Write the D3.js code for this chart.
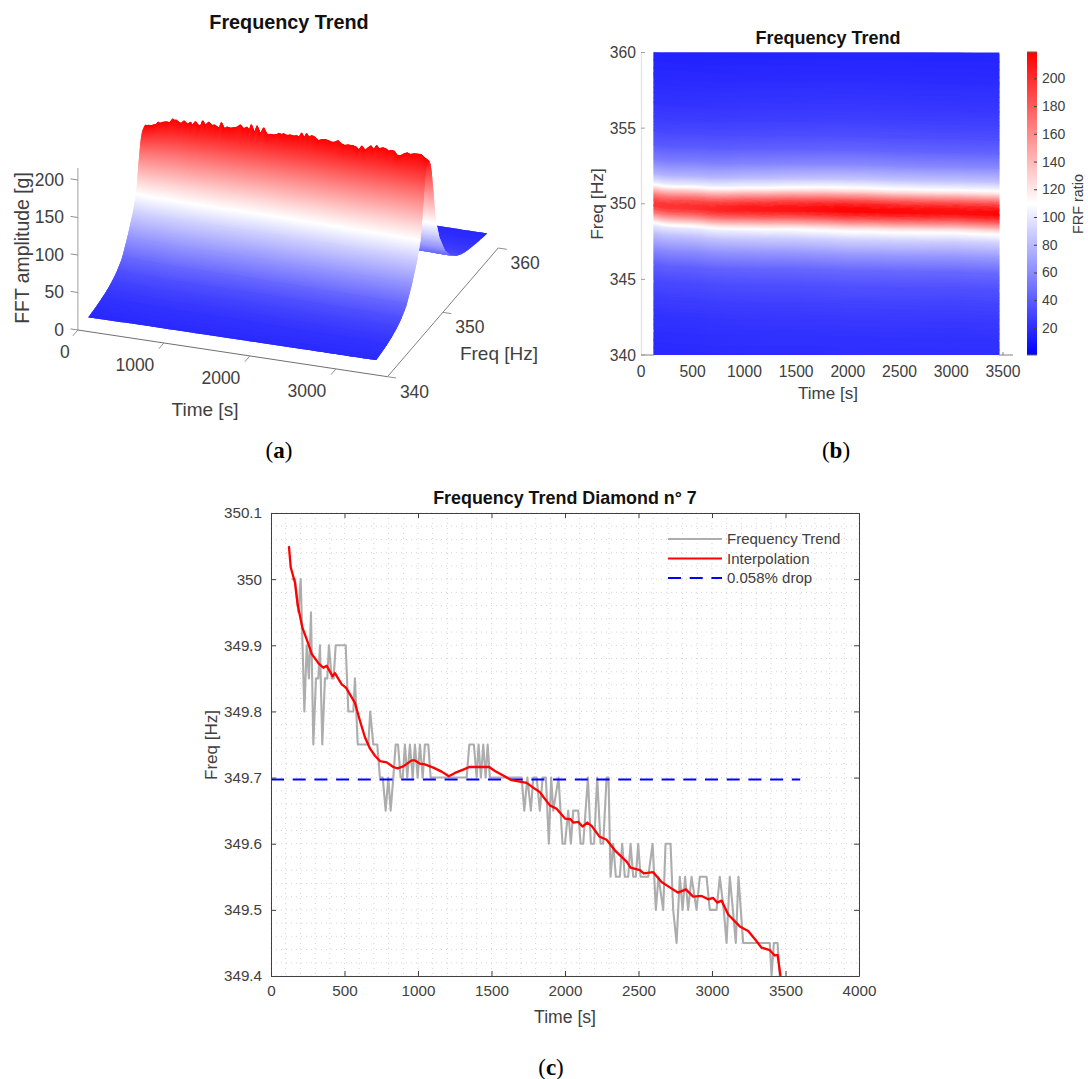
<!DOCTYPE html>
<html><head><meta charset="utf-8">
<style>
html,body{margin:0;padding:0;background:#fff}
svg{display:block}
text{font-family:"Liberation Sans",Arial,sans-serif;fill:#404040}
.title{font-weight:700;fill:#111}
.cap{font-family:"Liberation Serif",serif;fill:#000;font-size:23px}
</style>
<script src="https://cdn.jsdelivr.net/npm/d3@7"></script>
</head><body>
<svg id="c" width="1088" height="1079"></svg>
<script>
// ---- Panel (c) data ----
const trendTimes=[141,163,186,202,227,243,258,272,288,306,322,333,349,367,383,394,413,426,440,508,526,560,571,590,662,675,696,723,741,760,780,798,814,832,848,864,882,896,911,927,945,964,979,998,1013,1032,1047,1070,1086,1331,1349,1380,1399,1412,1428,1444,1460,1474,1489,1705,1723,1744,1768,1784,1807,1829,1848,1870,1890,1906,1920,1956,1983,2000,2022,2040,2056,2090,2106,2124,2156,2176,2198,2219,2242,2260,2283,2296,2310,2328,2346,2373,2389,2407,2430,2446,2464,2482,2498,2514,2566,2596,2618,2636,2668,2684,2718,2736,2759,2781,2800,2817,2838,2861,2895,2917,2963,2985,3031,3053,3080,3099,3121,3142,3162,3180,3212,3393,3405,3421,3446,3461];
const trendFreqs=[350,350,349.95,350,349.8,349.9,349.85,349.95,349.75,349.85,349.85,349.9,349.75,349.85,349.85,349.9,349.85,349.85,349.9,349.9,349.8,349.8,349.85,349.75,349.75,349.8,349.75,349.75,349.7,349.7,349.65,349.7,349.65,349.7,349.75,349.75,349.7,349.7,349.75,349.7,349.75,349.7,349.75,349.7,349.75,349.7,349.75,349.75,349.7,349.7,349.75,349.75,349.7,349.75,349.7,349.75,349.7,349.75,349.7,349.7,349.65,349.7,349.65,349.7,349.7,349.65,349.7,349.7,349.6,349.7,349.65,349.7,349.6,349.6,349.65,349.6,349.65,349.65,349.6,349.6,349.7,349.6,349.6,349.7,349.6,349.6,349.7,349.7,349.55,349.6,349.55,349.55,349.6,349.55,349.55,349.6,349.55,349.55,349.6,349.55,349.55,349.6,349.5,349.55,349.5,349.6,349.6,349.5,349.45,349.55,349.5,349.55,349.5,349.55,349.5,349.55,349.55,349.5,349.5,349.55,349.5,349.45,349.55,349.5,349.45,349.55,349.45,349.45,349.4,349.45,349.45,349.4];
const interpTimes=[122,134,163,181,213,254,277,322,356,379,419,435,481,510,571,605,639,673,707,741,787,832,861,900,957,979,1013,1047,1104,1161,1210,1251,1308,1349,1484,1523,1580,1637,1739,1795,1829,1852,1897,1943,2000,2038,2056,2090,2119,2151,2181,2233,2283,2339,2419,2446,2509,2536,2600,2657,2713,2770,2822,2872,2929,2974,3008,3035,3065,3110,3189,3246,3298,3336,3393,3427,3446,3466];
const interpFreqs=[350.05,350.018,349.995,349.962,349.927,349.902,349.887,349.873,349.866,349.869,349.853,349.858,349.841,349.836,349.813,349.786,349.761,349.744,349.733,349.725,349.723,349.716,349.714,349.717,349.726,349.726,349.721,349.72,349.715,349.709,349.702,349.707,349.712,349.716,349.716,349.71,349.703,349.696,349.692,349.683,349.678,349.671,349.658,349.653,349.638,349.637,349.632,349.633,349.626,349.632,349.627,349.611,349.606,349.59,349.573,349.564,349.56,349.555,349.557,349.542,349.534,349.526,349.531,349.52,349.521,349.516,349.518,349.511,349.514,349.493,349.475,349.468,349.454,349.443,349.439,349.431,349.432,349.4];
const dropFreq=349.697;
const dropTimes=[0,3600];
const legendNames=["Frequency Trend","Interpolation","0.058% drop"];
const cXTicks=[0,500,1000,1500,2000,2500,3000,3500,4000];
const cYTicks=[349.4,349.5,349.6,349.7,349.8,349.9,350,350.1];

// ---- Panels (a),(b) data: ridge height over time and cross-section around the ridge ----
const peakTimes=[120,137,157,176,196,234,273,292,312,351,389,428,448,467,486,506,544,564,603,641,680,699,738,765,796,823,854,893,932,959,990,1017,1040,1075,1106,1145,1184,1223,1261,1300,1339,1366,1389,1428,1455,1494,1533,1572,1610,1649,1688,1707,1738,1765,1804,1843,1881,1920,1947,1978,2009,2036,2064,2095,2133,2172,2211,2250,2288,2327,2366,2405,2443,2482,2521,2579,2618,2649,2684,2723,2754,2792,2823,2858,2889,2928,2967,2998,3025,3064,3095,3141,3180,3219,3250,3296,3335,3381,3420,3470];
const peakAmps=[186,190,189,191,190.5,192.5,194.5,198,196.5,199,200,200,203,206,204,205,202,201.5,206,202,206,202,208,204,202,211,205,210,206,207,205,204,212.5,204,207,206,207.5,209,213,208,211,207,216,204,215.6,204,214,205,206,205.6,207,209.4,208,209.6,208,209.7,208.7,210,208.6,215,209,215.5,210.7,213.6,212,208,210,211,210.5,209,209.6,212.7,209,207.5,209,209,207.6,204,210.8,205,209.3,213,208,214.8,210.5,212.7,212,209.3,210.8,210.5,205.5,206,209.3,211.3,209.6,211.4,212,212,208.4,205];
const trendOfPeakTimes=[120,300,600,1000,1500,2000,3470];
const trendOfPeakAmps=[188,196,203,206,208,210,209];
const sectionOffsets=[-11,-10,-9,-8,-7,-6,-5,-4,-3,-2,-1.45,-1.2,-1,-0.8,-0.6,-0.4,-0.2,-0.1,0,0.1,0.2,0.4,0.6,0.8,1,1.2,1.45,2,3,4,5,6,7,8,9,10,11];
const sectionAmps=[17,19,20.5,22.5,25,29,35,45,65,90,110,128,150,170,190,205,214,217,218,217,214,205,190,170,150,128,110,86,60,44,35,29,25,22.5,20,18,16.5];
const heatTimes=[120,500,1000,1500,2000,2500,3000,3470];
const heatPeaks=[196,200,208,212,218,216,214,217];
const aZTicks=[0,50,100,150,200];
const aTTicks=[0,1000,2000,3000];
const aFTicks=[340,350,360];
const bXTicks=[0,500,1000,1500,2000,2500,3000,3500];
const bYTicks=[340,345,350,355,360];
const barTicks=[20,40,60,80,100,120,140,160,180,200];

const svg=d3.select("#c");
const defs=svg.append("defs");
const INK="#404040";
const heatColor=d3.scaleLinear().domain([1,110,219]).range(["#0000ff","#ffffff","#ff0000"]).clamp(true);
const section=d3.scaleLinear().domain(sectionOffsets).range(sectionAmps);
const centerAt=d3.scaleLinear().domain(interpTimes).range(interpFreqs).clamp(true);
const peakTrend=d3.scaleLinear().domain(trendOfPeakTimes).range(trendOfPeakAmps);
const peakMax=d3.max(sectionAmps);

// rows of the surface: subdivide cross-section so every row spans a small amplitude step
const rows=[];
for(let i=0;i<sectionOffsets.length-1;i++){
  const a=sectionOffsets[i],b=sectionOffsets[i+1];
  const n=Math.max(1,Math.ceil(Math.abs(sectionAmps[i+1]-sectionAmps[i])/1.2));
  d3.range(n).forEach(k=>rows.push({o1:a+(b-a)*k/n,o2:a+(b-a)*(k+1)/n}));
}
rows.forEach(r=>{r.mid=(r.o1+r.o2)/2;r.amp=section(r.mid);r.w=r.o2-r.o1;});

// ======= Panel (a) =======
const gA=svg.append("g");
const tx=d3.scaleLinear().domain([0,3600]).range([0,309.6]);
const ty=d3.scaleLinear().domain([0,3600]).range([0,46.7]);
const fx=d3.scaleLinear().domain([340,360]).range([0,110.7]);
const fy=d3.scaleLinear().domain([340,360]).range([0,-128.7]);
const zy=d3.scaleLinear().domain([0,200]).range([0,-150]);
const O=[77.9,330];
const P=(t,f,z)=>[O[0]+tx(t)+fx(f),O[1]+ty(t)+fy(f)+zy(z)];
const clampF=f=>Math.min(360,Math.max(340,f));
function surfPoint(t,o,pk){
  const c=centerAt(t);const f=clampF(c+o);
  const s=section(f-c);
  const tr=peakTrend(t);
  const rel=s/peakMax;
  const factor=1-(1-tr/peakMax)*rel*rel*rel;
  const w=Math.pow(Math.max(0,(s-190)/28),2);
  return P(t,f,s*factor+(pk-tr)*w);
}
const surfLine=d3.line();
gA.append("g").selectAll("path").data(rows.slice().reverse()).join("path")
  .attr("d",r=>{
    const o2=Math.min(11,r.o2+r.w*1.2);
    const up=peakTimes.map((t,i)=>surfPoint(t,o2,peakAmps[i]));
    const dn=peakTimes.map((t,i)=>surfPoint(t,r.o1,peakAmps[i])).reverse();
    return surfLine(up.concat(dn))+"Z";
  })
  .attr("fill",r=>heatColor(r.amp));
// 3-D axes
const axA=gA.append("g").attr("stroke","#808080").attr("stroke-width",1).attr("fill","none");
const seg=(a,b,col)=>axA.append("line").attr("x1",a[0]).attr("y1",a[1]).attr("x2",b[0]).attr("y2",b[1]).attr("stroke",col||"#808080");
seg(P(0,340,0),P(0,340,216),"#a0a0a0");
seg(P(0,340,0),P(3600,340,0),"#707070");
seg(P(3600,340,0),P(3600,360,0),"#808080");
aZTicks.forEach(z=>seg(P(0,340,z),P(-85,340,z),"#909090"));
aTTicks.forEach(t=>seg(P(t,340,0),P(t,339.1,0),"#909090"));
aFTicks.forEach(f=>seg(P(3600,f,0),P(3700,f,0),"#909090"));
const txtA=gA.append("g").attr("font-size",17.5);
aZTicks.forEach(z=>{const p=P(0,340,z);txtA.append("text").attr("x",p[0]-14).attr("y",p[1]+5.5).attr("text-anchor","end").text(z);});
aTTicks.forEach(t=>{const p=P(t,340,0);txtA.append("text").attr("x",p[0]-(t===0?13:29)).attr("y",p[1]+(t===0?28:28)).attr("text-anchor","middle").text(t);});
aFTicks.forEach(f=>{const p=P(3600,f,0);txtA.append("text").attr("x",p[0]+27).attr("y",p[1]+21).attr("text-anchor","middle").text(f);});
gA.append("text").attr("font-size",19).attr("x",205).attr("y",416).attr("text-anchor","middle").text("Time [s]");
gA.append("text").attr("font-size",19).attr("x",499).attr("y",360).attr("text-anchor","middle").text("Freq [Hz]");
gA.append("text").attr("font-size",19.4).attr("transform","translate(29,248) rotate(-90)").attr("text-anchor","middle").text("FFT amplitude [g]");
gA.append("text").attr("class","title").attr("font-size",19.8).attr("x",289).attr("y",29).attr("text-anchor","middle").text("Frequency Trend");
const cap=(x,y,l)=>{const t=svg.append("text").attr("class","cap").attr("x",x).attr("y",y).attr("text-anchor","middle");
  t.append("tspan").text("(");t.append("tspan").attr("font-weight",700).text(l);t.append("tspan").text(")");};
cap(279,458,"a");cap(836,458,"b");cap(551,1075,"c");

// ======= Panel (b) =======
const gB=svg.append("g");
const bx=d3.scaleLinear().domain([0,3500]).range([641,1003]);
const by=d3.scaleLinear().domain([340,360]).range([355,52.5]);
defs.append("clipPath").attr("id","heatClip").append("rect")
  .attr("x",bx(119)).attr("y",by(360)).attr("width",bx(3465)-bx(119)).attr("height",by(340)-by(360));
const heatPeak=d3.scaleLinear().domain(heatTimes).range(heatPeaks);
const grads=defs.selectAll("linearGradient.h").data(rows).join("linearGradient")
  .attr("class","h").attr("id",(r,i)=>"h"+i).attr("gradientUnits","userSpaceOnUse")
  .attr("x1",bx(120)).attr("x2",bx(3470)).attr("y1",0).attr("y2",0);
grads.selectAll("stop").data(r=>heatTimes.map(t=>({t,c:heatColor(r.amp*heatPeak(t)/peakMax)}))).join("stop")
  .attr("offset",d=>(d.t-120)/(3470-120)).attr("stop-color",d=>d.c);
gB.append("g").attr("clip-path","url(#heatClip)").selectAll("path").data(rows).join("path")
  .attr("d",r=>{
    const up=peakTimes.map(t=>[bx(t),by(centerAt(t)+r.o2)]);
    const dn=peakTimes.map(t=>[bx(t),by(centerAt(t)+r.o1-r.w*1.2)]).reverse();
    return surfLine(up.concat(dn))+"Z";
  })
  .attr("fill",(r,i)=>"url(#h"+i+")");
gB.append("line").attr("x1",641.5).attr("x2",641.5).attr("y1",52).attr("y2",355).attr("stroke","#e2e2e2").attr("stroke-width",1.2);
gB.append("line").attr("x1",641).attr("x2",654).attr("y1",355).attr("y2",355).attr("stroke","#808080");
gB.append("line").attr("x1",999).attr("x2",1013).attr("y1",355).attr("y2",355).attr("stroke","#808080");
gB.append("line").attr("x1",bx(3500)).attr("x2",bx(3500)).attr("y1",355).attr("y2",352).attr("stroke","#808080");
bYTicks.forEach(v=>gB.append("line").attr("x1",641).attr("x2",645).attr("y1",by(v)).attr("y2",by(v)).attr("stroke","#a0a0a0"));
const tB=gB.append("g").attr("font-size",15.7);
bXTicks.forEach(v=>tB.append("text").attr("x",bx(v)).attr("y",377).attr("text-anchor","middle").text(v));
bYTicks.forEach(v=>tB.append("text").attr("x",636).attr("y",by(v)+5.5).attr("text-anchor","end").text(v));
gB.append("text").attr("font-size",17).attr("x",828).attr("y",399).attr("text-anchor","middle").text("Time [s]");
gB.append("text").attr("font-size",17.4).attr("transform","translate(603,204) rotate(-90)").attr("text-anchor","middle").text("Freq [Hz]");
gB.append("text").attr("class","title").attr("font-size",18).attr("x",828).attr("y",44).attr("text-anchor","middle").text("Frequency Trend");
// colour bar
const barY=d3.scaleLinear().domain([0.5,219]).range([355,52]);
const bg=defs.append("linearGradient").attr("id","bar").attr("x1",0).attr("x2",0).attr("y1",1).attr("y2",0);
[1,110,219].forEach(v=>bg.append("stop").attr("offset",(v-1)/218).attr("stop-color",heatColor(v)));
gB.append("rect").attr("x",1027).attr("y",52).attr("width",10).attr("height",303).attr("fill","url(#bar)");
[52,355].forEach(y=>gB.append("line").attr("x1",1027).attr("x2",1037).attr("y1",y).attr("y2",y).attr("stroke","#666"));
const barAxis=gB.append("g").attr("transform","translate(1037,0)")
  .call(d3.axisRight(barY).tickValues(barTicks).tickSize(-3).tickPadding(5));
barAxis.select(".domain").remove();
barAxis.selectAll("line").attr("stroke","#404040");
barAxis.selectAll("text").attr("font-size",14).attr("font-family","Liberation Sans").attr("fill",INK);
gB.append("text").attr("font-size",14.4).attr("transform","translate(1083,204) rotate(-90)").attr("text-anchor","middle").text("FRF ratio");

// ======= Panel (c) =======
const gC=svg.append("g");
const cx=d3.scaleLinear().domain([0,4000]).range([271,859]);
const cy=d3.scaleLinear().domain([349.4,350.1]).range([976,513]);
const gridG=gC.append("g").attr("fill","none").attr("stroke-width",1);
const minorX=d3.range(0,4001,100),minorY=d3.range(0,36).map(i=>349.4+i*0.02);
gridG.selectAll("line.mx").data(minorX).join("line").attr("class","mx")
  .attr("x1",cx).attr("x2",cx).attr("y1",513).attr("y2",976)
  .attr("stroke","#d6d6d6").attr("stroke-dasharray","1 4");
gridG.selectAll("line.my").data(minorY).join("line").attr("class","my")
  .attr("x1",271).attr("x2",859).attr("y1",cy).attr("y2",cy)
  .attr("stroke","#d6d6d6").attr("stroke-dasharray","1 4");
const lineC=d3.line().x(d=>cx(d[0])).y(d=>cy(d[1]));
gC.append("path").attr("fill","none").attr("stroke","#adadad").attr("stroke-width",2.1).attr("stroke-linejoin","round")
  .attr("d",lineC(trendTimes.map((t,i)=>[t,trendFreqs[i]])));
gC.append("path").attr("fill","none").attr("stroke","#0000ff").attr("stroke-width",2).attr("stroke-dasharray","13 8.7")
  .attr("d",lineC(dropTimes.map(t=>[t,dropFreq])));
gC.append("path").attr("fill","none").attr("stroke","#ff0000").attr("stroke-width",2.3).attr("stroke-linejoin","round")
  .attr("d",lineC(interpTimes.map((t,i)=>[t,interpFreqs[i]])));
const style=g=>{g.selectAll("path.domain").attr("stroke",INK).attr("stroke-width",1);g.selectAll("line").attr("stroke",INK);
  g.selectAll("text").attr("font-size",15.2).attr("font-family","Liberation Sans").attr("fill",INK);};
gC.append("g").attr("transform","translate(0,976)").call(d3.axisBottom(cx).tickValues(cXTicks).tickSize(-5).tickPadding(9).tickSizeOuter(0).tickFormat(d3.format("d"))).call(style);
gC.append("g").attr("transform","translate(0,513)").call(d3.axisTop(cx).tickValues(cXTicks).tickSize(-5).tickSizeOuter(0).tickFormat("")).call(style);
gC.append("g").attr("transform","translate(271,0)").call(d3.axisLeft(cy).tickValues(cYTicks).tickSize(-5).tickPadding(9).tickSizeOuter(0).tickFormat(d=>+d.toFixed(1))).call(style);
gC.append("g").attr("transform","translate(859,0)").call(d3.axisRight(cy).tickValues(cYTicks).tickSize(-5).tickSizeOuter(0).tickFormat("")).call(style);
gC.append("text").attr("font-size",17.6).attr("x",565).attr("y",1023).attr("text-anchor","middle").text("Time [s]");
gC.append("text").attr("font-size",17).attr("transform","translate(217,745) rotate(-90)").attr("text-anchor","middle").text("Freq [Hz]");
gC.append("text").attr("class","title").attr("font-size",17.9).attr("x",565).attr("y",504).attr("text-anchor","middle").text("Frequency Trend Diamond n° 7");
const legY=d3.scalePoint().domain(legendNames).range([539,578]);
const legStyle={"Frequency Trend":["#adadad",null],"Interpolation":["#ff0000",null],"0.058% drop":["#0000ff","13 8.7"]};
legendNames.forEach(n=>{
  gC.append("line").attr("x1",668).attr("x2",722).attr("y1",legY(n)).attr("y2",legY(n))
    .attr("stroke",legStyle[n][0]).attr("stroke-width",2).attr("stroke-dasharray",legStyle[n][1]);
  gC.append("text").attr("font-size",15).attr("x",727).attr("y",legY(n)+5).text(n);
});
</script>
</body></html>
